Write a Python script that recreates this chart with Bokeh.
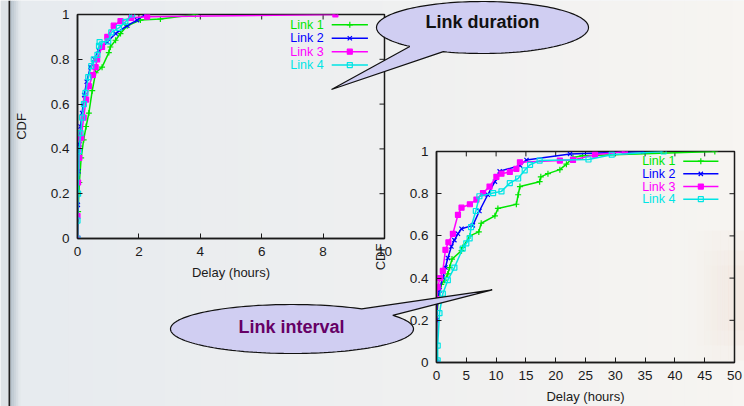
import numpy as np
from bokeh.plotting import figure
from bokeh.models import Range1d, FixedTicker, GridBox
from bokeh.core.properties import value
from bokeh.embed import file_html
from bokeh.resources import INLINE

# ---------------- data: link duration CDF (left chart) ----------------
series_names = ["Link 1", "Link 2", "Link 3", "Link 4"]

dur_link1_x = [0, 0.02, 0.06, 0.12, 0.2, 0.28, 0.37, 0.48, 0.59, 0.8, 1.02, 1.07, 1.24, 1.4, 1.62, 2.05, 2.7, 3.84]
dur_link1_y = [0, 0.12, 0.25, 0.36, 0.44, 0.5, 0.56, 0.66, 0.74, 0.765, 0.83, 0.855, 0.885, 0.915, 0.95, 0.975, 0.98, 1.0]
dur_link2_x = [0, 0.01, 0.03, 0.06, 0.1, 0.15, 0.22, 0.3, 0.42, 0.55, 0.69, 0.97, 1.24, 1.62, 1.94, 2.21]
dur_link2_y = [0, 0.15, 0.3, 0.42, 0.5, 0.56, 0.64, 0.7, 0.765, 0.8, 0.84, 0.877, 0.915, 0.95, 0.975, 1.0]
dur_link3_x = [0, 0.0, 0.02, 0.06, 0.12, 0.2, 0.28, 0.37, 0.5, 0.59, 0.64, 0.8, 0.97, 1.18, 1.4, 1.75, 2.27, 8.4]
dur_link3_y = [0, 0.1, 0.25, 0.36, 0.45, 0.54, 0.62, 0.68, 0.73, 0.765, 0.8, 0.855, 0.9, 0.95, 0.97, 0.985, 0.99, 1.0]
dur_link4_x = [0, 0.0, 0.02, 0.05, 0.1, 0.15, 0.21, 0.26, 0.35, 0.45, 0.53, 0.65, 0.7, 0.72, 1.0, 1.1, 1.35, 1.56, 1.78]
dur_link4_y = [0, 0.08, 0.2, 0.39, 0.47, 0.54, 0.6, 0.65, 0.72, 0.77, 0.8, 0.82, 0.86, 0.877, 0.88, 0.92, 0.94, 0.967, 1.0]

# ---------------- data: link interval CDF (right chart) ----------------
int_link1_x = [0, 0, 0.3, 0.8, 1.35, 1.9, 2.2, 2.6, 4.2, 4.4, 5.6, 7.1, 7.5, 9.8, 10.3, 13.4, 13.7, 14.0, 17.3, 17.5, 18.7, 20.7, 21.8, 22.9, 24.5, 46.7]
int_link1_y = [0, 0.2, 0.3, 0.37, 0.39, 0.42, 0.45, 0.49, 0.53, 0.545, 0.6, 0.619, 0.66, 0.695, 0.73, 0.75, 0.795, 0.834, 0.857, 0.88, 0.895, 0.914, 0.94, 0.972, 0.98, 1.0]
int_link2_x = [0, 0, 0.2, 0.5, 1.06, 1.5, 1.9, 2.5, 3.0, 3.6, 4.2, 6.1, 7.2, 8.6, 9.8, 10.6, 14.0, 15.1, 22.4, 34.7]
int_link2_y = [0, 0.2, 0.3, 0.342, 0.403, 0.45, 0.495, 0.55, 0.58, 0.61, 0.634, 0.65, 0.718, 0.795, 0.857, 0.906, 0.934, 0.96, 0.988, 1.0]
int_link3_x = [0, 0, 0.2, 0.6, 1.06, 1.5, 2.0, 2.75, 3.6, 4.2, 5.6, 6.7, 7.8, 8.9, 10.05, 10.9, 12.3, 13.4, 14.0, 20.7, 22.9, 26.6, 31.6]
int_link3_y = [0, 0.3, 0.357, 0.4, 0.434, 0.534, 0.57, 0.61, 0.7, 0.734, 0.75, 0.772, 0.803, 0.834, 0.88, 0.895, 0.903, 0.918, 0.949, 0.957, 0.96, 0.985, 1.0]
int_link4_x = [0, 0.2, 0.2, 0.5, 1.06, 1.9, 3.0, 4.4, 5.0, 5.56, 5.8, 6.6, 7.2, 9.5, 10.9, 12.3, 13.7, 14.8, 15.7, 17.3, 25.5, 29.4, 38.1]
int_link4_y = [0, 0.01, 0.08, 0.234, 0.326, 0.39, 0.45, 0.54, 0.565, 0.588, 0.642, 0.718, 0.788, 0.803, 0.811, 0.85, 0.872, 0.911, 0.937, 0.957, 0.962, 0.985, 1.0]

dur_xticks = [0, 2, 4, 6, 8, 10]
int_xticks = [0, 5, 10, 15, 20, 25, 30, 35, 40, 45, 50]
cdf_ticks = [0, 0.2, 0.4, 0.6, 0.8, 1]
cdf_tick_labels = ["0", "0.2", "0.4", "0.6", "0.8", "1"]
x_label = "Delay (hours)"
y_label = "CDF"
callout_duration = "Link duration"
callout_interval = "Link interval"

# ---------------- layout / style ----------------
W, H = 744, 406
FONT = "Liberation Sans"
INK = "#1a1a1a"
COLORS = ["#00e600", "#0000ff", "#ff00ff", "#00e5e5"]
MARKERS = ["cross", "x", "square", "square"]
MSIZE = [6, 6, 5, 5]
MFILL = [True, True, True, False]
TICK = 5  # px, gnuplot-style inward ticks


def style_axis(ax, ticks, labels=None):
    ax.ticker = FixedTicker(ticks=ticks)
    ax.major_tick_in = TICK
    ax.major_tick_out = 0
    ax.minor_tick_line_color = None
    ax.axis_line_color = INK
    ax.axis_line_width = 1.5
    ax.major_tick_line_color = INK
    ax.major_tick_line_width = 1
    ax.major_label_text_font = FONT
    ax.major_label_text_font_size = "13.5px"
    ax.major_label_text_color = INK
    if labels is not None:
        ax.major_label_overrides = dict(zip(ticks, labels))


def cdf_plot(box, x_end, xticks, xs, ys, ylab_standoff):
    fl, fr, ft, fb = box
    fw, fh = fr - fl, fb - ft
    p = figure(width=W, height=H, x_range=Range1d(0, x_end), y_range=Range1d(0, 1),
               output_backend="svg", toolbar_location=None, frame_align=False,
               min_border_left=fl, min_border_right=W - fr,
               min_border_top=ft, min_border_bottom=H - fb)
    p.background_fill_alpha = 0
    p.border_fill_alpha = 0
    p.outline_line_color = INK
    p.outline_line_width = 1.5
    p.grid.visible = False

    style_axis(p.xaxis[0], xticks)
    style_axis(p.yaxis[0], cdf_ticks, cdf_tick_labels)
    p.xaxis[0].major_label_standoff = 8
    p.yaxis[0].major_label_standoff = 8
    for ax, lab in ((p.xaxis[0], x_label), (p.yaxis[0], y_label)):
        ax.axis_label = lab
        ax.axis_label_text_font = FONT
        ax.axis_label_text_font_size = "13px"
        ax.axis_label_text_font_style = "normal"
        ax.axis_label_text_color = INK
    p.xaxis[0].axis_label_standoff = 6
    p.yaxis[0].axis_label_standoff = ylab_standoff

    # mirrored inward ticks on the top and right edges (gnuplot style)
    dy = TICK / fh
    dx = TICK / fw * x_end
    p.segment(x0=xticks, y0=[1] * len(xticks), x1=xticks, y1=[1 - dy] * len(xticks),
              line_color=INK, line_width=1)
    p.segment(x0=[x_end] * len(cdf_ticks), y0=cdf_ticks, x1=[x_end - dx] * len(cdf_ticks),
              y1=cdf_ticks, line_color=INK, line_width=1)

    # legend geometry as fractions of the frame (gnuplot style: text, then sample)
    tx = 0.802 * x_end
    s0, s1 = 0.828 * x_end, 0.946 * x_end
    for i in range(4):
        ly = 1 - (0.046 + 0.06 * i)
        p.line(xs[i], ys[i], line_color=COLORS[i], line_width=1.5)
        p.scatter(xs[i], ys[i], marker=MARKERS[i], size=MSIZE[i], line_color=COLORS[i],
                  fill_color=COLORS[i] if MFILL[i] else None, line_width=1.2)
        p.text(x=[tx], y=[ly], text=[series_names[i]], text_font=value(FONT),
               text_font_size="12.5px", text_color=COLORS[i], text_align="right",
               text_baseline="middle")
        p.line([s0, s1], [ly, ly], line_color=COLORS[i], line_width=1.5)
        p.scatter([(s0 + s1) / 2], [ly], marker=MARKERS[i], size=MSIZE[i], line_color=COLORS[i],
                  fill_color=COLORS[i] if MFILL[i] else None, line_width=1.2)
    return p


# ---------------- background (slide) ----------------
bg = figure(width=W, height=H, x_range=Range1d(0, W), y_range=Range1d(H, 0),
            output_backend="svg", toolbar_location=None, x_axis_type=None, y_axis_type=None,
            min_border=0, frame_align=False)
bg.outline_line_color = None
bg.border_fill_color = "#eef0f2"
bg.background_fill_color = "#eef0f2"
n = 60
edges = np.linspace(20, W, n + 1)
c0 = np.array([231, 235, 239])
c1 = np.array([247, 245, 242])
cols = ["#%02x%02x%02x" % tuple(int(v) for v in c0 + (c1 - c0) * i / (n - 1)) for i in range(n)]
bg.quad(left=edges[:-1], right=edges[1:] + 0.6, top=0, bottom=H, color=cols, line_color=None)
bg.quad(left=[0], right=[8], top=[0], bottom=[H], color="#dde2e6", line_color=None)
bg.quad(left=[8], right=[10], top=[0], bottom=[H], color="#202020", line_color=None)
se = np.linspace(10, 20, 6)
sc0 = np.array([184, 195, 205])
sc1 = np.array([226, 231, 235])
scols = ["#%02x%02x%02x" % tuple(int(v) for v in sc0 + (sc1 - sc0) * i / 4) for i in range(5)]
bg.quad(left=se[:-1], right=se[1:] + 0.3, top=0, bottom=H, color=scols, line_color=None)
# faint warm glow in the lower right of the slide
for k, (t0, b0) in enumerate([(230, 360), (250, 345), (265, 330)]):
    we = np.linspace(680 + 10 * k, W, 9)
    bg.quad(left=we[:-1], right=we[1:] + 0.3, top=t0, bottom=b0, color="#f0d6c4",
            alpha=list(np.linspace(0.0, 0.12, 8)), line_color=None)

# ---------------- the two CDF charts ----------------
p1 = cdf_plot((77, 384, 14, 238), 10,
              dur_xticks,
              [dur_link1_x, dur_link2_x, dur_link3_x, dur_link4_x],
              [dur_link1_y, dur_link2_y, dur_link3_y, dur_link4_y], 19)
p2 = cdf_plot((436, 734, 151, 367), 50,
              int_xticks,
              [int_link1_x, int_link2_x, int_link3_x, int_link4_x],
              [int_link1_y, int_link2_y, int_link3_y, int_link4_y], 19)

# ---------------- callout bubbles (overlay) ----------------
ov = figure(width=W, height=H, x_range=Range1d(0, W), y_range=Range1d(H, 0),
            output_backend="svg", toolbar_location=None, x_axis_type=None, y_axis_type=None,
            min_border=0, frame_align=False)
ov.outline_line_color = None
ov.background_fill_alpha = 0
ov.border_fill_alpha = 0


def bubble(cx, cy, a, b, th1, th2, tip):
    t = np.radians(np.linspace(th1, th2, 160))
    bx = list(cx + a * np.cos(t)) + [tip[0]]
    by = list(cy + b * np.sin(t)) + [tip[1]]
    return bx, by


bx, by = bubble(482, 27, 106, 26, 133.3, 471.7, (331, 89))
ov.patch(bx, by, fill_color="#d0cef2", line_color="#111111", line_width=1.2)
ov.text(x=[482], y=[21], text=[callout_duration], text_font=value(FONT),
        text_font_style="bold", text_font_size="18px", text_color="#111111",
        text_align="center", text_baseline="middle")

bx, by = bubble(291.5, 328.5, 121.5, 24.5, -34, 305, (491.7, 289.3))
ov.patch(bx, by, fill_color="#d0cef2", line_color="#111111", line_width=1.2)
ov.text(x=[291], y=[326], text=[callout_interval], text_font=value(FONT),
        text_font_style="bold", text_font_size="18px", text_color="#660066",
        text_align="center", text_baseline="middle")

# all four layers share one grid cell, painted in order
layout = GridBox(children=[(bg, 0, 0), (p1, 0, 0), (p2, 0, 0), (ov, 0, 0)],
                 width=W, height=H)
open("out.html", "w").write(file_html(layout, INLINE))
